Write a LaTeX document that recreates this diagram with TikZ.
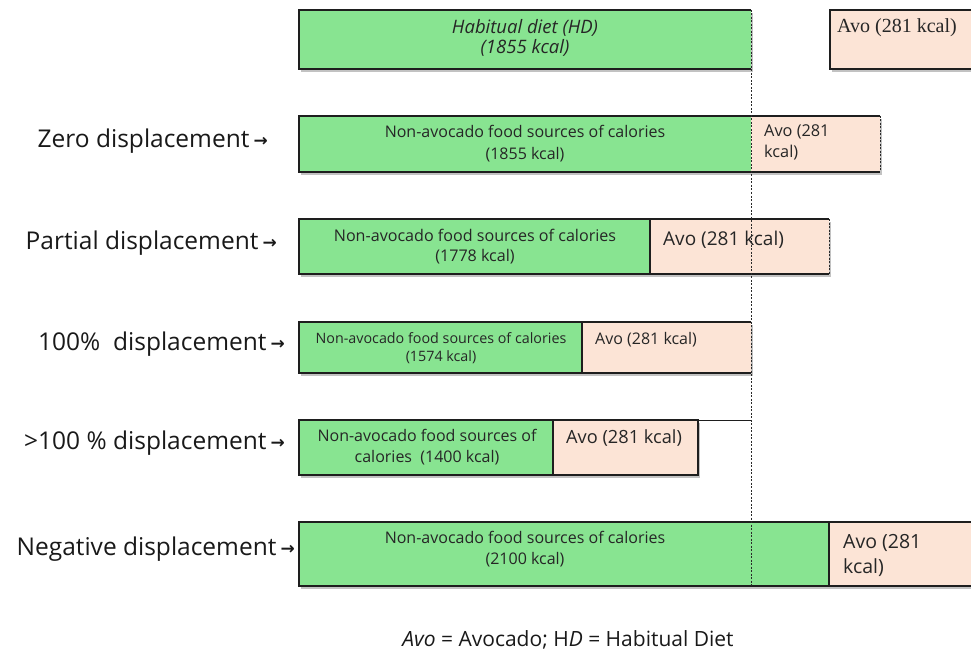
\documentclass[tikz,border=0pt]{standalone}
\usepackage{fontspec}
\setmainfont{Open Sans}
\newfontfamily\serifavo{Liberation Serif}
\newfontfamily\arrowfont{DejaVu Sans}
\usetikzlibrary{shadows,calc}
\definecolor{hdgreen}{HTML}{88E491}
\definecolor{avopeach}{HTML}{FCE4D6}
\definecolor{edgec}{HTML}{1E1E1E}
\definecolor{dashc}{HTML}{2A2A2A}
\newcommand{\arr}{{\arrowfont\bfseries\fontsize{17}{17}\selectfont\raisebox{0.5pt}{→}}}
\begin{document}
\begin{tikzpicture}[x=1pt,y=-1pt,
  bar/.style={anchor=north west, inner sep=0pt, outer sep=0pt, line width=1.3pt,
     drop shadow={shadow xshift=2pt, shadow yshift=-3pt, opacity=0.4, fill=black!60}},
  gbar/.style={bar, fill=hdgreen},
  abar/.style={bar, fill=avopeach},
  outl/.style={draw=edgec, line width=1.3pt},
  vdash/.style={draw=dashc, line width=0.9pt, dash pattern=on 2pt off 1.5pt},
  lbl/.style={anchor=east, font=\fontsize{24.5}{28}\selectfont, inner sep=0pt, text=black!90},
  gtxt/.style={align=center, inner sep=0pt, text=black!85},
  atxt/.style={anchor=west, align=left, inner sep=0pt, text=black!85},
]
\useasboundingbox (0,0) rectangle (971,655);

% row 1: habitual diet
\node[gbar, minimum width=452pt, minimum height=59pt] (g1) at (299,10) {};
\node[abar, draw=edgec, minimum width=160pt, minimum height=59pt] (a1) at (830,10) {};
\draw[outl] (g1.north east) -- (g1.north west) -- (g1.south west) -- (g1.south east);

% row 2: zero
\node[gbar, minimum width=452pt, minimum height=56pt] (g2) at (299,116) {};
\node[abar, minimum width=129pt, minimum height=56pt] (a2) at (751,116) {};
\draw[outl] (a2.north east) -- (g2.north west) -- (g2.south west) -- (a2.south east);
\draw[vdash] (a2.north east) -- (a2.south east);

% row 3: partial
\node[gbar, draw=edgec, minimum width=351pt, minimum height=55pt] (g3) at (299,219) {};
\node[abar, minimum width=179pt, minimum height=55pt] (a3) at (650,219) {};
\draw[outl] (a3.north east) -- (a3.north west) -- (a3.south west) -- (a3.south east);
\draw[vdash] (a3.north east) -- (a3.south east);

% row 4: 100%
\node[gbar, draw=edgec, minimum width=283pt, minimum height=51pt] (g4) at (299,322) {};
\node[abar, minimum width=169pt, minimum height=51pt] (a4) at (582,322) {};
\draw[outl] (a4.north east) -- (a4.north west) -- (a4.south west) -- (a4.south east);

% row 5: >100%
\node[gbar, draw=edgec, minimum width=254pt, minimum height=55pt] (g5) at (299,420) {};
\node[abar, draw=edgec, minimum width=145pt, minimum height=55pt] (a5) at (553,420) {};

% row 6: negative
\node[gbar, draw=edgec, minimum width=530pt, minimum height=64pt] (g6) at (299,522) {};
\node[abar, draw=edgec, minimum width=160pt, minimum height=64pt] (a6) at (829,522) {};

% reference line
\coordinate (dtop) at (g1.north east);
\coordinate (dbot) at (g6.south -| g1.east);
\coordinate (r5top) at (a5.north -| g1.east);
\draw[outl, line width=0.9pt] (a5.north east) -- (r5top);
\draw[vdash] (dtop) -- (dbot);

% texts in bars
\node[gtxt, font=\itshape\fontsize{18.5}{20}\selectfont] (t1) at (525,38) {Habitual diet (HD)\\(1855 kcal)};
\node[atxt, font=\serifavo\fontsize{20}{22}\selectfont] (u1) at (837,28) {Avo (281 kcal)};

\node[gtxt, font=\fontsize{16}{22}\selectfont] (t2) at (525,144) {Non-avocado food sources of calories\\(1855 kcal)};
\node[atxt, font=\fontsize{16.3}{21}\selectfont] (u2) at (764,142.5) {Avo (281\\kcal)};

\node[gtxt, font=\fontsize{16.1}{20}\selectfont] (t3) at (475,247) {Non-avocado food sources of calories\\(1778 kcal)};
\node[atxt, font=\fontsize{19}{21}\selectfont] (u3) at (663,240) {Avo (281 kcal)};

\node[gtxt, font=\fontsize{14.3}{18}\selectfont] (t4) at (441,348) {Non-avocado food sources of calories\\(1574 kcal)};
\node[atxt, font=\fontsize{16}{18}\selectfont] (u4) at (595,340) {Avo (281 kcal)};

\node[gtxt, font=\fontsize{16}{21}\selectfont] (t5) at (427,447.5) {Non-avocado food sources of\\calories~ (1400 kcal)};
\node[atxt, font=\fontsize{18.2}{20}\selectfont] (u5) at (566,438) {Avo (281 kcal)};

\node[gtxt, font=\fontsize{16}{21}\selectfont] (t6) at (525,549.5) {Non-avocado food sources of calories\\(2100 kcal)};
\node[atxt, font=\fontsize{19.5}{25}\selectfont] (u6) at (843,555.5) {Avo (281\\kcal)};

% row labels
\node[lbl] (l2) at (268,141) {Zero displacement\,\arr};
\node[lbl] (l3) at (277,243) {Partial displacement\,\arr};
\node[lbl] (l4) at (285,344) {100\%~ displacement\,\arr};
\node[lbl] (l5) at (285,443) {>100 \% displacement\,\arr};
\node[lbl] (l6) at (295,549) {Negative displacement\,\arr};

% caption
\node[inner sep=0pt, font=\fontsize{21}{24}\selectfont, text=black!90] (cap) at (568,640) {\textit{Avo} = Avocado; H\textit{D} = Habitual Diet};
\end{tikzpicture}
\end{document}
